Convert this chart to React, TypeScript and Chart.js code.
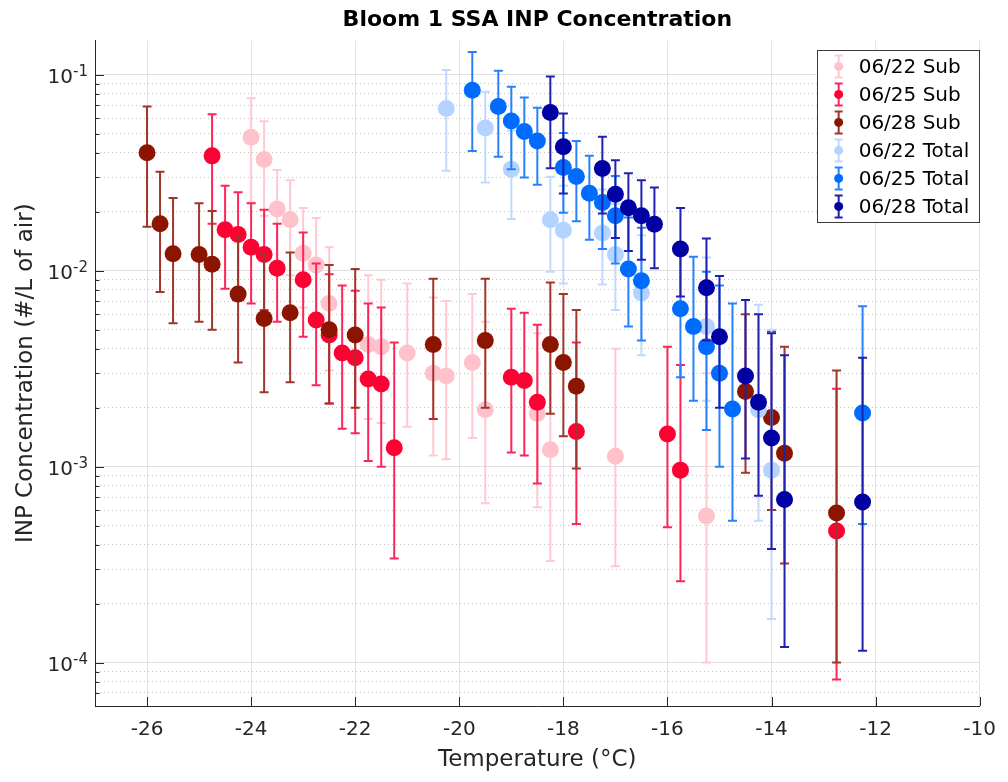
import React, { useEffect, useRef } from "react";
import { Chart, registerables } from "chart.js";

Chart.register(...registerables);

const FONT = "'DejaVu Sans', 'Liberation Sans', sans-serif";
const AXIS_COLOR = "#262626";

const chartTitle = "Bloom 1 SSA INP Concentration";
const xAxisTitle = "Temperature (°C)";
const yAxisTitle = "INP Concentration (#/L of air)";

const xMin = -27;
const xMax = -10;
const yMin = 6e-5;
const yMax = 0.15;
const xTickValues = [-26, -24, -22, -20, -18, -16, -14, -12, -10];
const yDecadeValues = [1e-4, 1e-3, 1e-2, 1e-1];
const yDecadeBase = "10";
const yDecadeExponents = ["-4", "-3", "-2", "-1"];
const yMinorMantissas = [2, 3, 4, 5, 6, 7, 8, 9];

const seriesLabels = ["06/22 Sub", "06/25 Sub", "06/28 Sub", "06/22 Total", "06/25 Total", "06/28 Total"];
const seriesColors = ["#FFC2CB", "#FF0033", "#8B1500", "#B5D3FF", "#006BFF", "#0000A3"];
const seriesBarColors = ["#FFC9D1", "#FF2457", "#A0352A", "#BFD9FF", "#2680FF", "#2020B0"];

// 06/22 Sub
const sub0622Temp = [-24.0, -23.75, -23.5, -23.25, -23.0, -22.75, -22.5, -21.75, -21.5, -21.0, -20.5, -20.25, -19.75, -19.5, -18.5, -18.25, -17.0, -15.25];
const sub0622Conc = [0.048, 0.037, 0.0207, 0.0182, 0.0123, 0.0107, 0.0068, 0.0042, 0.0041, 0.0038, 0.003, 0.0029, 0.0034, 0.00195, 0.00187, 0.00122, 0.00113, 0.00056];
const sub0622High = [0.076, 0.058, 0.0327, 0.029, 0.0209, 0.0186, 0.0132, 0.0095, 0.009, 0.0086, 0.0073, 0.007, 0.0076, 0.0055, 0.0048, 0.0042, 0.004, 0.003];
const sub0622Low = [0.0223, 0.0191, 0.0101, 0.0095, 0.0065, 0.0056, 0.0031, 0.00175, 0.00167, 0.0016, 0.00114, 0.00109, 0.0014, 0.00065, 0.00062, 0.00033, 0.00031, 0.0001];

// 06/25 Sub
const sub0625Temp = [-24.75, -24.5, -24.25, -24.0, -23.75, -23.5, -23.0, -22.75, -22.5, -22.25, -22.0, -21.75, -21.5, -21.25, -19.0, -18.75, -18.5, -17.75, -16.0, -15.75, -12.75];
const sub0625Conc = [0.0386, 0.0162, 0.0153, 0.0132, 0.0121, 0.0103, 0.009, 0.0056, 0.0047, 0.0038, 0.0036, 0.0028, 0.00264, 0.00125, 0.00286, 0.00275, 0.00213, 0.00151, 0.00147, 0.00096, 0.00047];
const sub0625High = [0.063, 0.0272, 0.0252, 0.0221, 0.0205, 0.0174, 0.0157, 0.0109, 0.0096, 0.0084, 0.0079, 0.0068, 0.0065, 0.0043, 0.0064, 0.0061, 0.0053, 0.0043, 0.0041, 0.0033, 0.0025];
const sub0625Low = [0.0174, 0.0081, 0.0077, 0.0068, 0.0063, 0.0055, 0.0046, 0.0026, 0.0021, 0.00156, 0.00148, 0.00107, 0.001, 0.00034, 0.00118, 0.00114, 0.00082, 0.00051, 0.00049, 0.00026, 0.000082];

// 06/28 Sub
const sub0628Temp = [-26.0, -25.75, -25.5, -25.0, -24.75, -24.25, -23.75, -23.25, -22.5, -22.0, -20.5, -19.5, -18.25, -18.0, -17.75, -14.5, -14.0, -13.75, -12.75];
const sub0628Conc = [0.04, 0.0174, 0.0122, 0.0121, 0.0108, 0.0076, 0.0057, 0.0061, 0.005, 0.0047, 0.0042, 0.0044, 0.0042, 0.0034, 0.00257, 0.00242, 0.00178, 0.00117, 0.00058];
const sub0628High = [0.069, 0.032, 0.0235, 0.0221, 0.0202, 0.0151, 0.0122, 0.0124, 0.0107, 0.0102, 0.0091, 0.0091, 0.0087, 0.0076, 0.0063, 0.006, 0.0049, 0.0041, 0.0031];
const sub0628Low = [0.0168, 0.0078, 0.0054, 0.0055, 0.005, 0.0034, 0.0024, 0.0027, 0.0021, 0.002, 0.00175, 0.002, 0.00186, 0.00143, 0.00098, 0.00093, 0.0006, 0.00032, 0.0001];

// 06/22 Total
const tot0622Temp = [-20.25, -19.5, -19.0, -18.25, -18.0, -17.25, -17.0, -16.5, -15.25, -14.25, -14.0];
const tot0622Conc = [0.0673, 0.0535, 0.033, 0.0182, 0.0161, 0.0156, 0.0121, 0.0077, 0.0052, 0.00195, 0.00096];
const tot0622High = [0.106, 0.082, 0.052, 0.0302, 0.0272, 0.026, 0.022, 0.0152, 0.0117, 0.0067, 0.005];
const tot0622Low = [0.0324, 0.0282, 0.0184, 0.0099, 0.0086, 0.0085, 0.0063, 0.0037, 0.00217, 0.00053, 0.000167];

// 06/25 Total
const tot0625Temp = [-19.75, -19.25, -19.0, -18.75, -18.5, -18.0, -17.75, -17.5, -17.25, -17.0, -16.75, -16.5, -15.75, -15.5, -15.25, -15.0, -14.75, -12.25];
const tot0625Conc = [0.0835, 0.0689, 0.0582, 0.0514, 0.046, 0.0337, 0.0303, 0.0249, 0.0223, 0.0191, 0.0102, 0.0089, 0.0064, 0.0052, 0.0041, 0.003, 0.00197, 0.00188];
const tot0625High = [0.131, 0.105, 0.087, 0.0766, 0.068, 0.0505, 0.046, 0.0387, 0.034, 0.0305, 0.0187, 0.0166, 0.0128, 0.0118, 0.0099, 0.0084, 0.0068, 0.0066];
const tot0625Low = [0.0409, 0.0382, 0.033, 0.0299, 0.0275, 0.0198, 0.0179, 0.0144, 0.0129, 0.0109, 0.0052, 0.0044, 0.00286, 0.00217, 0.00154, 0.001, 0.00053, 0.00051];

// 06/28 Total
const tot0628Temp = [-18.25, -18.0, -17.25, -17.0, -16.75, -16.5, -16.25, -15.75, -15.25, -15.0, -14.5, -14.25, -14.0, -13.75, -12.25];
const tot0628Conc = [0.0642, 0.043, 0.0333, 0.0246, 0.021, 0.0191, 0.0173, 0.0129, 0.0082, 0.0046, 0.0029, 0.00213, 0.0014, 0.00068, 0.00066];
const tot0628High = [0.098, 0.0635, 0.0484, 0.0367, 0.0315, 0.029, 0.0266, 0.0209, 0.0146, 0.0094, 0.0071, 0.006, 0.0048, 0.0037, 0.0036];
const tot0628Low = [0.0334, 0.0248, 0.0196, 0.0147, 0.0126, 0.0114, 0.0103, 0.0074, 0.0044, 0.002, 0.0011, 0.00071, 0.00038, 0.00012, 0.000115];

const seriesTemps = [sub0622Temp, sub0625Temp, sub0628Temp, tot0622Temp, tot0625Temp, tot0628Temp];
const seriesConcs = [sub0622Conc, sub0625Conc, sub0628Conc, tot0622Conc, tot0625Conc, tot0628Conc];
const seriesHighs = [sub0622High, sub0625High, sub0628High, tot0622High, tot0625High, tot0628High];
const seriesLows = [sub0622Low, sub0625Low, sub0628Low, tot0622Low, tot0625Low, tot0628Low];

const isDecade = (v: number) => yDecadeValues.some((d) => Math.abs(v / d - 1) < 1e-6);

const yTickList: number[] = [];
[1e-5, 1e-4, 1e-3, 1e-2, 1e-1].forEach((d) => {
  [1, ...yMinorMantissas].forEach((m) => {
    const v = m * d;
    if (v >= yMin && v <= yMax) yTickList.push(v);
  });
});

const errorBarPlugin = {
  id: "errorBars",
  beforeDatasetDraw(chart: any, args: any) {
    const ds: any = chart.data.datasets[args.index];
    const xs = chart.scales.x;
    const ys = chart.scales.y;
    const ctx = chart.ctx;
    const a = chart.chartArea;
    ctx.save();
    ctx.beginPath();
    ctx.rect(a.left, a.top, a.right - a.left, a.bottom - a.top);
    ctx.clip();
    ctx.strokeStyle = ds.errColor;
    ctx.lineWidth = 2;
    ds.data.forEach((p: any, i: number) => {
      const px = xs.getPixelForValue(p.x);
      const pl = ys.getPixelForValue(ds.errLow[i]);
      const ph = ys.getPixelForValue(ds.errHigh[i]);
      ctx.beginPath();
      ctx.moveTo(px, pl);
      ctx.lineTo(px, ph);
      ctx.moveTo(px - 4.5, pl);
      ctx.lineTo(px + 4.5, pl);
      ctx.moveTo(px - 4.5, ph);
      ctx.lineTo(px + 4.5, ph);
      ctx.stroke();
    });
    ctx.restore();
  },
};

const tickMarkPlugin = {
  id: "inwardTicks",
  beforeDatasetsDraw(chart: any) {
    const ctx = chart.ctx;
    const a = chart.chartArea;
    const xs = chart.scales.x;
    const ys = chart.scales.y;
    ctx.save();
    ctx.strokeStyle = AXIS_COLOR;
    ctx.lineWidth = 1;
    ctx.beginPath();
    xTickValues.forEach((v) => {
      const px = Math.round(xs.getPixelForValue(v)) + 0.5;
      ctx.moveTo(px, a.bottom);
      ctx.lineTo(px, a.bottom - 9);
    });
    yTickList.forEach((v) => {
      const py = Math.round(ys.getPixelForValue(v)) + 0.5;
      const len = isDecade(v) ? 9 : 4.5;
      ctx.moveTo(a.left, py);
      ctx.lineTo(a.left + len, py);
    });
    ctx.stroke();

    // decade labels: base "10" with raised exponent
    ctx.fillStyle = AXIS_COLOR;
    ctx.textBaseline = "alphabetic";
    ctx.textAlign = "right";
    const right = a.left - 7;
    yDecadeValues.forEach((d, i) => {
      const py = ys.getPixelForValue(d);
      ctx.font = `15px ${FONT}`;
      const expW = ctx.measureText(yDecadeExponents[i]).width;
      ctx.fillText(yDecadeExponents[i], right, py + 1);
      ctx.font = `20px ${FONT}`;
      ctx.fillText(yDecadeBase, right - expW, py + 8.5);
    });
    ctx.restore();
  },
};

const legendPlugin = {
  id: "boxLegend",
  afterDraw(chart: any) {
    const ctx = chart.ctx;
    const a = chart.chartArea;
    const right = a.right - 1;
    const left = right - 162;
    const top = a.top + 10;
    const h = 172;
    ctx.save();
    ctx.fillStyle = "#ffffff";
    ctx.fillRect(left, top, right - left, h);
    ctx.strokeStyle = "#3a3a3a";
    ctx.lineWidth = 1;
    ctx.strokeRect(Math.round(left) + 0.5, Math.round(top) + 0.5, Math.round(right - left), h);
    chart.data.datasets.forEach((ds: any, i: number) => {
      const cy = top + 16 + i * 28;
      const cx = left + 22;
      ctx.strokeStyle = ds.errColor;
      ctx.lineWidth = 2;
      ctx.beginPath();
      ctx.moveTo(cx, cy - 11);
      ctx.lineTo(cx, cy + 11);
      ctx.moveTo(cx - 4, cy - 11);
      ctx.lineTo(cx + 4, cy - 11);
      ctx.moveTo(cx - 4, cy + 11);
      ctx.lineTo(cx + 4, cy + 11);
      ctx.stroke();
      ctx.fillStyle = ds.backgroundColor;
      ctx.beginPath();
      ctx.arc(cx, cy, 4.5, 0, Math.PI * 2);
      ctx.fill();
      ctx.fillStyle = "#000000";
      ctx.font = `20px ${FONT}`;
      ctx.textBaseline = "middle";
      ctx.textAlign = "left";
      ctx.fillText(ds.label, left + 42, cy + 1);
    });
    ctx.restore();
  },
};

export default function App() {
  const canvasRef = useRef<HTMLCanvasElement | null>(null);

  useEffect(() => {
    if (!canvasRef.current) return;
    const datasets = seriesLabels.map((label, s) => ({
      label,
      data: seriesTemps[s].map((t, i) => ({ x: t, y: seriesConcs[s][i] })),
      errLow: seriesLows[s],
      errHigh: seriesHighs[s],
      errColor: seriesBarColors[s],
      backgroundColor: seriesColors[s],
      borderColor: seriesColors[s],
      pointRadius: 8.5,
      pointHoverRadius: 8.5,
      pointBorderWidth: 0,
      borderWidth: 0,
      showLine: false,
      order: seriesLabels.length - s,
    }));

    const chart = new Chart(canvasRef.current, {
      type: "scatter",
      data: { datasets: datasets as any },
      plugins: [errorBarPlugin, tickMarkPlugin, legendPlugin],
      options: {
        animation: false,
        responsive: false,
        devicePixelRatio: 1,
        layout: { padding: { left: 0, right: 23, top: 0, bottom: 0 } },
        plugins: {
          legend: { display: false },
          tooltip: { enabled: false },
          title: {
            display: true,
            text: chartTitle,
            fullSize: false,
            color: "#000000",
            font: { family: FONT, size: 22, weight: "bold", lineHeight: 1.2 },
            padding: { top: 7, bottom: 7 },
          },
        },
        scales: {
          x: {
            type: "linear",
            position: "bottom",
            min: xMin,
            max: xMax,
            afterBuildTicks: (scale: any) => {
              scale.ticks = xTickValues.map((v) => ({ value: v }));
            },
            afterFit: (scale: any) => {
              scale.height = 76;
            },
            ticks: {
              autoSkip: false,
              maxRotation: 0,
              color: AXIS_COLOR,
              font: { family: FONT, size: 20 },
              padding: 12,
              callback: (v: any) => String(v),
            },
            grid: { color: "#E3E3E3", lineWidth: 1, drawTicks: false },
            border: { display: true, color: AXIS_COLOR, width: 1 },
            title: {
              display: true,
              text: xAxisTitle,
              color: AXIS_COLOR,
              font: { family: FONT, size: 23, lineHeight: 1.2 },
              padding: { top: 0, bottom: 8 },
            },
          },
          y: {
            type: "logarithmic",
            position: "left",
            min: yMin,
            max: yMax,
            afterBuildTicks: (scale: any) => {
              scale.ticks = yTickList.map((v) => ({ value: v, major: isDecade(v) }));
            },
            afterFit: (scale: any) => {
              scale.width = 95;
            },
            ticks: {
              autoSkip: false,
              color: AXIS_COLOR,
              font: { family: FONT, size: 20 },
              padding: 7,
              callback: () => "",
            },
            grid: {
              drawTicks: false,
              lineWidth: 1,
              color: (c: any) => (c.tick && isDecade(c.tick.value) ? "#E0E0E0" : "#C4C4C4"),
            } as any,
            border: {
              display: true,
              color: AXIS_COLOR,
              width: 1,
              dash: (c: any) => (c.tick && !isDecade(c.tick.value) ? [1, 3] : []),
            } as any,
            title: {
              display: true,
              text: yAxisTitle,
              color: AXIS_COLOR,
              font: { family: FONT, size: 23, lineHeight: 1.2 },
              padding: { top: 12, bottom: 0 },
            },
          },
        },
      } as any,
    });
    return () => chart.destroy();
  }, []);

  return (
    <div style={{ position: "fixed", left: 0, top: 0, width: 1008, height: 782, background: "#ffffff" }}>
      <canvas ref={canvasRef} width={1008} height={782} />
    </div>
  );
}
